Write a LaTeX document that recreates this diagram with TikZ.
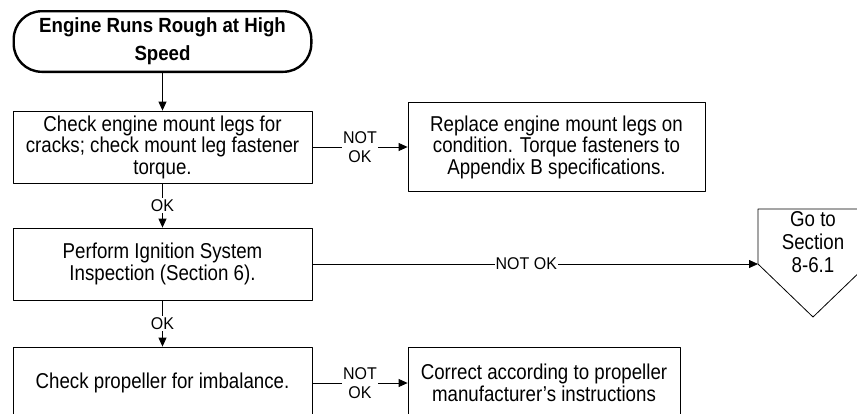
\documentclass[tikz,border=0pt]{standalone}
\usepackage{fontspec}
\setmainfont{Liberation Sans}
\newfontfamily\bodyfont{Liberation Sans}[FakeStretch=0.87,Ligatures=TeX]
\newfontfamily\lblfont{Liberation Sans}[FakeStretch=0.94]
\newfontfamily\titlefont{Liberation Sans}[FakeStretch=0.91]
\usetikzlibrary{arrows.meta}
\begin{document}
\begin{tikzpicture}[x=1pt,y=-1pt,line join=round,
    >={Triangle[length=9pt,width=8pt]},
    proc/.style={draw,line width=0.8pt,inner sep=0pt,align=center,
      font=\bodyfont\fontsize{21.5}{21.5}\selectfont},
    lbl/.style={fill=white,inner sep=1pt,align=center,
      font=\lblfont\fontsize{17}{19.5}\selectfont}]
    \useasboundingbox (0,0) rectangle (857,413);
    \clip (0,0) rectangle (857,413);
    % start
    \node (start) at (162.5,41.5) [draw,line width=2.4pt,rounded corners=28pt,
      minimum width=297.6pt,minimum height=60.6pt,inner sep=0pt,align=center,
      font=\titlefont\bfseries\fontsize{20.5}{28}\selectfont] {Engine Runs Rough at High\\Speed};
    % steps
    \node (mount) at (162.5,147) [proc,minimum width=299pt,minimum height=72pt]
      {Check engine mount legs for\\cracks; check mount leg fastener\\torque.};
    \node (replace) at (556.5,147) [proc,minimum width=297pt,minimum height=89pt]
      {Replace engine mount legs on\\condition. Torque fasteners to\\Appendix B specifications.};
    \node (ignition) at (162.5,264) [proc,minimum width=299pt,minimum height=72pt]
      {Perform Ignition System\\Inspection (Section 6).};
    \node (prop) at (162.5,383) [proc,minimum width=299pt,minimum height=72pt]
      {Check propeller for imbalance.};
    \node (correct) at (544,383) [proc,minimum width=272pt,minimum height=72pt]
      {Correct according to propeller\\manufacturer’s instructions};
    % off-page connector
    \draw[line width=0.8pt] (758,209) -- (868,209) -- (868,264) -- (813,317) -- (758,264) -- cycle;
    \coordinate (gotoin) at (758,264);
    \node (goto) at (813,242) [align=center,inner sep=0pt,
      font=\bodyfont\fontsize{21.5}{23}\selectfont] {Go to\\Section\\8-6.1};
    % connectors
    \draw[->,line width=0.8pt] (start.south) -- (mount.north);
    \draw[->,line width=0.8pt] (mount.east) -- node[lbl]{NOT\\OK} (replace.west);
    \draw[->,line width=0.8pt] (mount.south) -- node[lbl]{OK} (ignition.north);
    \draw[->,line width=0.8pt] (ignition.east) -- node[lbl,pos=0.48]{NOT OK} (gotoin);
    \draw[->,line width=0.8pt] (ignition.south) -- node[lbl]{OK} (prop.north);
    \draw[->,line width=0.8pt] (prop.east) -- node[lbl]{NOT\\OK} (correct.west);
\end{tikzpicture}
\end{document}
